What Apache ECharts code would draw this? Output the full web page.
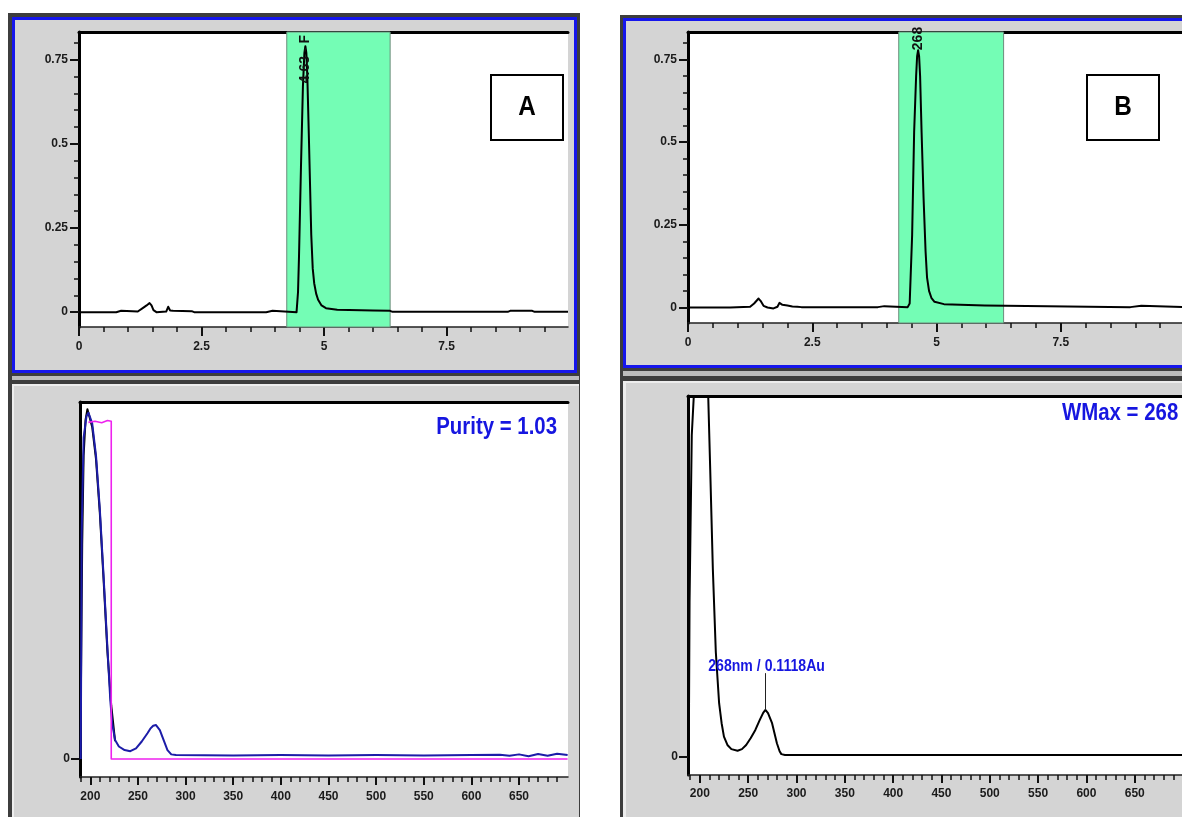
<!DOCTYPE html>
<html>
<head>
<meta charset="utf-8">
<title>Chromatograms and UV spectra</title>
<script src="https://cdn.jsdelivr.net/npm/echarts@6/dist/echarts.min.js"></script>
<style>
  html, body { margin: 0; padding: 0; background: #fff; }
  #chart { width: 1182px; height: 817px; }
</style>
</head>
<body>
<div id="chart"></div>
<script>
// chromatogram A: retention time (min) / absorbance (AU)
const chromTimeA = [0, 0.76, 0.8, 0.86, 0.9, 1.2, 1.3, 1.38, 1.44, 1.48, 1.52, 1.58, 1.78, 1.82, 1.86, 1.92, 2.3, 2.35,
  3.82, 3.86, 3.95, 3.98, 4.44, 4.47, 4.49, 4.53, 4.57, 4.6, 4.62, 4.64, 4.66, 4.69, 4.74, 4.77, 4.8, 4.84, 4.88, 4.95,
  5.04, 5.27, 6.0, 6.35, 6.4, 8.75, 8.8, 9.25, 9.3, 9.98]
const chromAbsA = [0, 0, 0.004, 0.004, 0, 0.002, 0.012, 0.02, 0.027, 0.02, 0.006, 0, 0.002, 0.016, 0.005, 0.004, 0.003, 0,
  0, 0.004, 0.004, 0, 0, 0.06, 0.165, 0.43, 0.67, 0.77, 0.79, 0.77, 0.7, 0.53, 0.23, 0.13, 0.086, 0.055, 0.037, 0.02,
  0.012, 0.007, 0.005, 0.004, 0.001, 0.001, 0.004, 0.004, 0.001, 0.001]

// chromatogram B
const chromTimeB = [0, 0.8, 0.82, 0.85, 1.25, 1.33, 1.42, 1.46, 1.52, 1.6, 1.72, 1.8, 1.84, 1.9, 2.0, 2.1, 2.2, 2.24, 2.28,
  3.82, 3.86, 3.95, 3.98, 4.42, 4.46, 4.51, 4.55, 4.59, 4.61, 4.63, 4.65, 4.67, 4.7, 4.74, 4.78, 4.81, 4.85, 4.9, 4.96,
  5.15, 5.97, 6.0, 8.9, 8.93, 9.12, 9.15, 10]
const chromAbsB = [0, 0, 0.004, 0, 0.002, 0.012, 0.027, 0.02, 0.005, 0, -0.003, 0.002, 0.014, 0.008, 0.006, 0.003, 0.002, 0.006, 0.001,
  0.001, 0.004, 0.004, 0.001, 0.001, 0.012, 0.22, 0.53, 0.7, 0.76, 0.778, 0.76, 0.7, 0.53, 0.33, 0.17, 0.09, 0.05, 0.028, 0.017,
  0.01, 0.006, 0.001, 0.001, 0.005, 0.005, 0.001, 0.001]

const peakWindow = [4.24, 6.35]
const peakTagA = '4.63 - F'
const peakTagB = '268'

// spectrum A (normalised), blue = apex, black = overlay, magenta = purity threshold
const waveA = [190, 191, 193, 196, 198, 202, 206, 210, 214, 218, 221, 223, 226, 230, 236, 242, 248, 254, 260, 263, 266,
  269, 271, 273, 277, 281, 285, 290, 350, 400, 450, 500, 550, 600, 630, 640, 650, 660, 670, 680, 690, 701]
const specA = [0, 0.64, 0.9, 0.96, 0.97, 0.94, 0.85, 0.7, 0.51, 0.31, 0.165, 0.1, 0.053, 0.035, 0.025, 0.022, 0.03, 0.049,
  0.072, 0.085, 0.093, 0.095, 0.091, 0.081, 0.053, 0.025, 0.013, 0.011, 0.01, 0.011, 0.01, 0.011, 0.01, 0.011, 0.012,
  0.009, 0.013, 0.008, 0.014, 0.009, 0.015, 0.011]
const waveBlackA = [189.5, 190.5, 191.5, 193, 195, 197, 199, 202, 206, 210, 214, 218, 222, 226]
const specBlackA = [0, 0.3, 0.6, 0.85, 0.95, 0.98, 0.96, 0.93, 0.84, 0.69, 0.5, 0.3, 0.15, 0.05]
const waveRefA = [198, 205, 212, 218, 222, 222, 701]
const specRefA = [0.943, 0.946, 0.942, 0.948, 0.946, 0, 0]

// spectrum B (AU)
const waveB = [188.5, 189.3, 191.6, 194.5, 208.2, 210.7, 213.4, 216.5, 219.9, 222.5, 224.9, 228.5, 232.6, 239, 243.5,
  247.9, 252.5, 257.4, 262, 265.5, 267.8, 270.5, 274.7, 279.7, 282.5, 284.3, 288, 400, 500, 600, 701]
const specB = [0, 0.37, 0.77, 0.9, 0.9, 0.687, 0.45, 0.25, 0.128, 0.08, 0.048, 0.028, 0.018, 0.014, 0.018,
  0.028, 0.044, 0.064, 0.088, 0.105, 0.1118, 0.104, 0.08, 0.032, 0.013, 0.006, 0.004, 0.004, 0.004, 0.004, 0.004]
const wmax = {nm: 268, au: 0.1118}

// tick labels
const timeTicks = [0, 2.5, 5, 7.5]
const timeMinor = [0.5, 1, 1.5, 2, 3, 3.5, 4, 4.5, 5.5, 6, 6.5, 7, 8, 8.5, 9, 9.5]
const absTicks = [0, 0.25, 0.5, 0.75]
const absMinor = [0.05, 0.1, 0.15, 0.2, 0.3, 0.35, 0.4, 0.45, 0.55, 0.6, 0.65, 0.7, 0.8]
const waveTicks = [200, 250, 300, 350, 400, 450, 500, 550, 600, 650]
const waveMinor = []
for (let w = 190; w <= 700; w += 10) if (w % 50) waveMinor.push(w)

const zip = (xs, ys) => xs.map((x, i) => [x, ys[i]])

const sans = "'Liberation Sans', Arial, sans-serif"
const tickFont = {fontFamily: sans, fontSize: 12, fontWeight: 'bold', color: '#1b1b1b'}
const GRAY = '#d4d4d4'
const BLUE = '#1616ec'
const DARK = '#3d3d3d'
const NOTE_BLUE = '#1616e0'

// grid order: chrom A, chrom B, spectrum A, spectrum B
const grids = [
  {left: 79, top: 32, width: 489, height: 295},
  {left: 688, top: 32, width: 497, height: 291},
  {left: 80, top: 402, width: 488, height: 375},
  {left: 688, top: 396, width: 496, height: 379},
]
const axisDefs = [
  {x: {min: 0, max: 9.98, major: timeTicks, minor: timeMinor, len: 9, minorLen: 5, margin: 14},
   y: {min: -0.044, max: 0.832, major: absTicks, minor: absMinor, margin: 11}},
  {x: {min: 0, max: 10, major: timeTicks, minor: timeMinor, len: 9, minorLen: 5, margin: 14},
   y: {min: -0.047, max: 0.833, major: absTicks, minor: absMinor, margin: 11}},
  {x: {min: 189.2, max: 701.4, major: waveTicks, minor: waveMinor, len: 8, minorLen: 5, margin: 14},
   y: {min: -0.0504, max: 1.0, major: [0], minor: [], margin: 10}},
  {x: {min: 187.7, max: 701, major: waveTicks, minor: waveMinor, len: 8, minorLen: 5, margin: 13},
   y: {min: -0.044, max: 0.864, major: [0], minor: [], margin: 10}},
]

const xAxis = []
const yAxis = []
axisDefs.forEach(({x, y}, g) => {
  xAxis.push(
    {gridIndex: g, type: 'value', min: x.min, max: x.max, position: 'bottom',
      axisLine: {show: true, onZero: false, lineStyle: {color: '#222', width: 1.5}},
      axisTick: {show: true, customValues: x.major, length: x.len, lineStyle: {color: '#111', width: 2}},
      axisLabel: {customValues: x.major, margin: x.margin, ...tickFont},
      splitLine: {show: false}},
    {gridIndex: g, type: 'value', min: x.min, max: x.max, position: 'bottom',
      axisLine: {show: false, onZero: false},
      axisTick: {show: true, customValues: x.minor, length: x.minorLen, lineStyle: {color: '#111', width: 1.5}},
      axisLabel: {show: false}, splitLine: {show: false}},
    {gridIndex: g, type: 'value', min: x.min, max: x.max, position: 'top',
      axisLine: {show: true, onZero: false, lineStyle: {color: '#000', width: 3}},
      axisTick: {show: false}, axisLabel: {show: false}, splitLine: {show: false}},
  )
  yAxis.push(
    {gridIndex: g, type: 'value', min: y.min, max: y.max, position: 'left',
      axisLine: {show: true, onZero: false, lineStyle: {color: '#000', width: 3}},
      axisTick: {show: true, customValues: y.major, length: 9, lineStyle: {color: '#111', width: 2}},
      axisLabel: {customValues: y.major, margin: y.margin, ...tickFont},
      splitLine: {show: false}},
    {gridIndex: g, type: 'value', min: y.min, max: y.max, position: 'left',
      axisLine: {show: false, onZero: false},
      axisTick: {show: y.minor.length > 0, customValues: y.minor, length: 5, lineStyle: {color: '#111', width: 1.5}},
      axisLabel: {show: false}, splitLine: {show: false}},
  )
})

const band = {
  silent: true,
  itemStyle: {color: '#74fdb5', borderColor: '#6d8c7c', borderWidth: 1},
  data: [[{xAxis: peakWindow[0]}, {xAxis: peakWindow[1]}]],
}
const peakTag = (coord, text, size) => ({
  symbol: 'circle', symbolSize: 0, silent: true,
  label: {show: true, position: 'inside', rotate: 90, align: 'left', verticalAlign: 'middle',
    formatter: text, fontFamily: sans, fontSize: size, fontWeight: 'bold', color: '#111'},
  data: [{coord}],
})
const line = (g, data, color, width, z) => ({
  type: 'line', xAxisIndex: 3 * g, yAxisIndex: 2 * g, data, showSymbol: false, symbol: 'none',
  lineStyle: {color, width, join: 'round'}, clip: true, z, animation: false,
})

const series = [
  {...line(0, zip(chromTimeA, chromAbsA), '#000', 2, 3), markArea: band,
    markPoint: peakTag([4.62, 0.68], peakTagA, 14)},
  {...line(1, zip(chromTimeB, chromAbsB), '#000', 2, 3), markArea: band,
    markPoint: peakTag([4.63, 0.778], peakTagB, 14)},
  line(2, zip(waveBlackA, specBlackA), '#000', 2, 2),
  line(2, zip(waveA, specA), '#1c1ca8', 2, 3),
  line(2, zip(waveRefA, specRefA), '#ee22ee', 1.6, 4),
  {...line(3, zip(waveB, specB), '#000', 2, 3),
    markLine: {
      silent: true, symbol: 'none', animation: false,
      lineStyle: {color: '#222', width: 1, type: 'solid'},
      label: {show: false},
      data: [[{coord: [wmax.nm, wmax.au]}, {coord: [wmax.nm, 0.2]}]],
    }},
]

// panel frames (window chrome of the acquisition software)
let zc = -40
const rect = (x, y, width, height, fill) => ({type: 'rect', silent: true, z: zc++, shape: {x, y, width, height}, style: {fill}})
const frames = [
  rect(8, 13, 572, 804, DARK),
  rect(12, 17, 565, 356, BLUE),
  rect(15, 20, 559, 350, GRAY),
  rect(12, 376, 567, 4, '#bcbcbc'),
  rect(12, 384, 567, 433, GRAY),
  rect(12, 384, 567, 2, '#ededed'),
  rect(12, 384, 2, 433, '#ededed'),
  rect(620, 15, 562, 802, DARK),
  rect(623, 18, 559, 350, BLUE),
  rect(626, 21, 556, 344, GRAY),
  rect(623, 371, 559, 5, '#bcbcbc'),
  rect(623, 381, 559, 436, GRAY),
  rect(623, 381, 559, 2, '#ededed'),
  rect(623, 381, 3, 436, '#ededed'),
]
const box = (x, y, letter) => [
  {type: 'rect', z: 50, shape: {x, y, width: 72, height: 65}, style: {fill: '#fff', stroke: '#000', lineWidth: 2}},
  {type: 'text', z: 51, x: x + 36, y: y + 33, scaleX: 0.9,
    style: {text: letter, font: `bold 27px ${sans}`, fill: '#000',
      align: 'center', verticalAlign: 'middle', textAlign: 'center', textVerticalAlign: 'middle'}},
]
// condensed bold blue notes (no narrow face installed, so squeeze horizontally)
const note = (x, y, text, align, size, sx = 0.85) => ({
  type: 'text', z: 52, x, y, scaleX: sx,
  style: {text, font: `bold ${size}px ${sans}`, fill: NOTE_BLUE, align, verticalAlign: 'middle',
    textAlign: align, textVerticalAlign: 'middle'},
})

const chart = echarts.init(document.getElementById('chart'))
chart.setOption({
  animation: false,
  grid: grids.map(g => ({...g, show: true, backgroundColor: '#fff', borderWidth: 0, containLabel: false, outerBoundsMode: 'none'})),
  xAxis,
  yAxis,
  series,
})

// the WMax label sits just above the end of its leader line
const [tagX, tagY] = chart.convertToPixel({seriesIndex: 5}, [wmax.nm, 0.2])
chart.setOption({
  graphic: [
    ...frames,
    ...box(491, 75, 'A'),
    ...box(1087, 75, 'B'),
    note(557, 427, 'Purity = 1.03', 'right', 24),
    note(1062, 413, 'WMax = 268', 'left', 24),
    note(tagX + 1, tagY - 7, `${wmax.nm}nm / ${wmax.au}Au`, 'center', 16, 0.88),
  ],
})
</script>
</body>
</html>
